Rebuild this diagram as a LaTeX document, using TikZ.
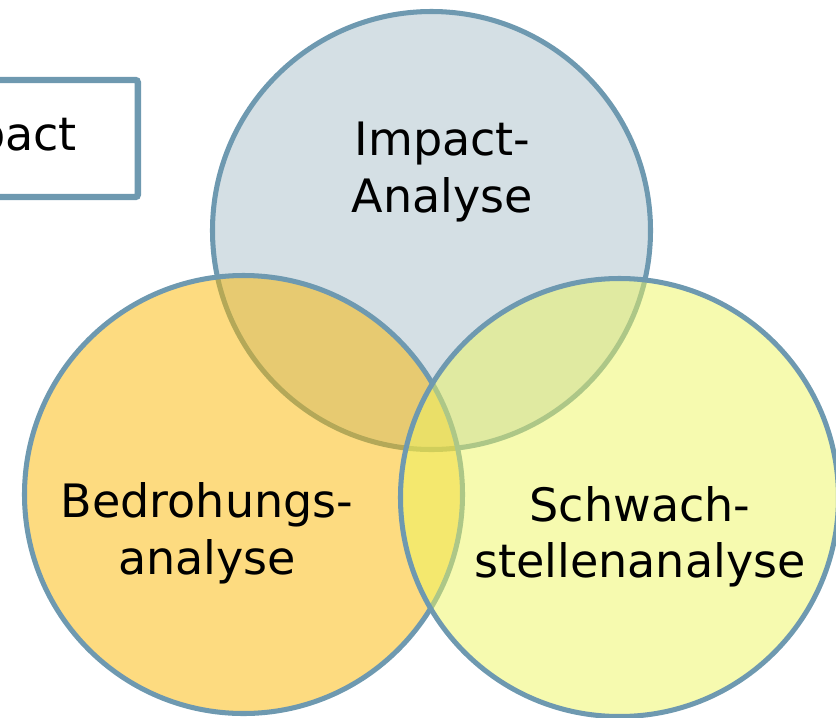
\documentclass[tikz,border=0pt]{standalone}
\usepackage{fontspec}
\setmainfont{DejaVu Sans}
\usepackage{tikz}
\usetikzlibrary{positioning}
\definecolor{rimcolor}{RGB}{110,153,176}
\definecolor{impactcolor}{RGB}{169,191,201}
\definecolor{threatcolor}{RGB}{251,183,1}
\definecolor{weakcolor}{RGB}{237,245,95}
\tikzstyle{venn} = [circle,
    minimum size=13.14cm,
    inner sep=0pt,
    draw=rimcolor,
    line width=4.3pt,
    fill opacity=0.5]
\tikzstyle{venntext} = [align=center,
    inner sep=0pt,
    font=\fontsize{39.3}{48.2}\selectfont]
\tikzstyle{labelbox} = [rectangle, rounded corners=2pt,
    minimum height=3.51cm,
    inner xsep=1.83cm,
    draw=rimcolor,
    line width=5.4pt,
    font=\fontsize{39.3}{48.2}\selectfont]

\begin{document}
\begin{tikzpicture}[x=0.03cm, y=-0.03cm]
\useasboundingbox (0,0) rectangle (836,717);
\clip (0,0) rectangle (836,717);

% circles, back to front
\node (impact) [venn, fill=impactcolor] at (431.5,230.5) {};
\node (threat) [venn, fill=threatcolor] at (243.5,494.5) {};
\node (weak) [venn, fill=weakcolor] at (619.5,497.5) {};

\node (impactText) [venntext] at (442.5,172) {Impact-\\Analyse};
\node (threatText) [venntext] at (207,533.5) {Bedrohungs-\\analyse};
\node (weakText) [venntext] at (640,537) {Schwach-\\stellenanalyse};

\node (impactBox) [labelbox, anchor=east] at (141,138.5) {Impact};

\end{tikzpicture}
\end{document}
